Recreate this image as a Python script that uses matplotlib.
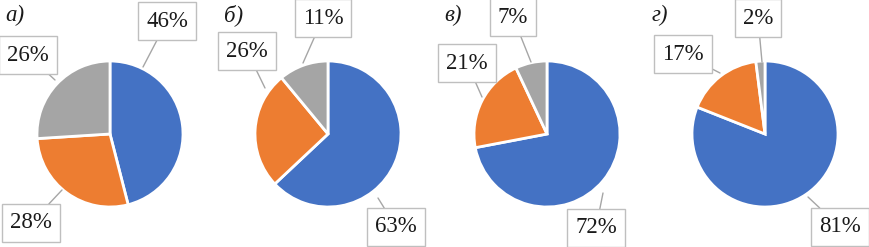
import matplotlib.pyplot as plt

# data
panel_titles = ["а)", "б)", "в)", "г)"]
shares_blue = [46, 63, 72, 81]
shares_orange = [28, 26, 21, 17]
shares_gray = [26, 11, 7, 2]
colors = ["#4472C4", "#ED7D31", "#A5A5A5"]

# layout (pixels in the 870x247 picture)
W, H = 870, 247
centers_x = [110, 328, 547, 765]
center_y = 134
radius_px = 73
# label text centres and leader targets, order: blue, orange, gray
label_pos = [
    [(167, 21), (31, 223), (28, 55)],
    [(396, 227), (247, 51), (323, 18)],
    [(596, 228), (467, 63), (513, 17)],
    [(840, 227), (683, 54), (758, 18)],
]
leader_to = [
    [(143, 67), (62, 190), (55, 80)],
    [(378, 198), (265, 88), (303, 63)],
    [(603, 193), (482, 97), (531, 62)],
    [(808, 197), (720, 73), (762, 62)],
]
title_pos = [(5, 15), (224, 15), (444, 15), (652, 15)]

plt.rcParams['font.family'] = ['Liberation Serif', 'DejaVu Serif']

fig = plt.figure(figsize=(W / 100, H / 100), dpi=100)
ax = fig.add_axes([0, 0, 1, 1])

for i in range(4):
    vals = [shares_blue[i], shares_orange[i], shares_gray[i]]
    # y axis is flipped below, so draw from -90 counter-clockwise in data space
    ax.pie(vals, colors=colors, startangle=-90, counterclock=True,
           center=(centers_x[i], center_y), radius=radius_px,
           wedgeprops=dict(edgecolor='white', linewidth=2), frame=True)
    for j, v in enumerate(vals):
        ax.annotate(f"{v}%", xy=leader_to[i][j], xytext=label_pos[i][j],
                    ha='center', va='center', fontsize=16.5, color='#1a1a1a',
                    bbox=dict(boxstyle='square,pad=0.35', fc='white', ec='#BFBFBF', lw=1),
                    arrowprops=dict(arrowstyle='-', color='#A6A6A6', lw=1,
                                    shrinkA=0, shrinkB=0))
    ax.text(title_pos[i][0], title_pos[i][1], panel_titles[i], fontsize=16.5,
            style='italic', ha='left', va='center', color='#1a1a1a')

ax.set_xlim(0, W)
ax.set_ylim(H, 0)
ax.set_aspect('equal')
ax.axis('off')
fig.savefig("out.png", dpi=100)
